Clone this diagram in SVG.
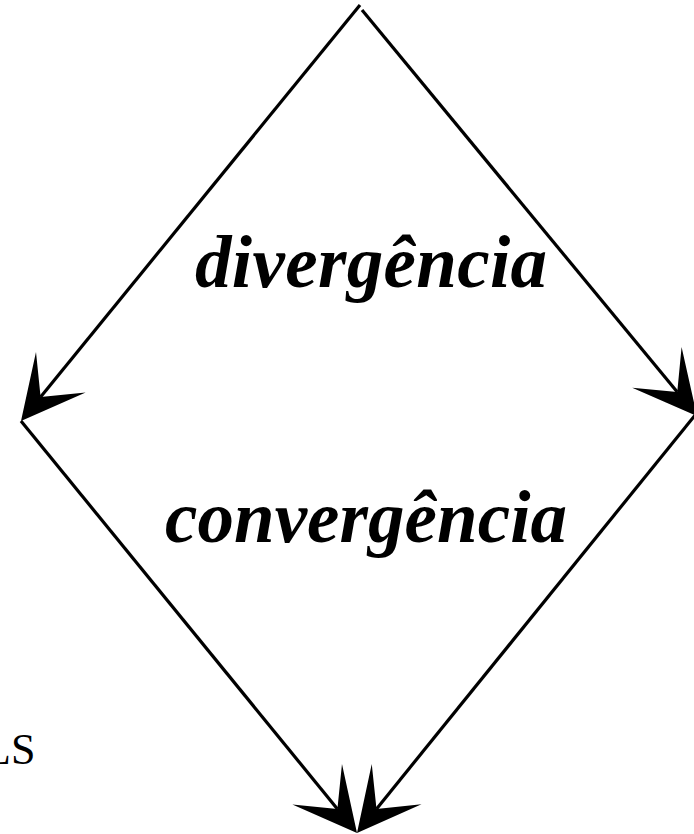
<svg xmlns="http://www.w3.org/2000/svg" width="694" height="834" viewBox="0 0 694 834">
  <style>
    .edge { fill: none; stroke: #000; stroke-width: 3.2; stroke-linecap: butt; }
    .label { font-family: "Liberation Serif", "Times New Roman", serif; font-weight: bold; font-style: italic; font-size: 73px; fill: #000; }
    .side { font-family: "Liberation Serif", "Times New Roman", serif; font-size: 44px; fill: #000; }
  </style>
  <defs>
    <marker id="arrow" markerUnits="userSpaceOnUse" orient="auto" overflow="visible" refX="-31" refY="0" markerWidth="70" markerHeight="70">
      <path d="M0,0 L-63,-32 L-31,0 L-63,32 Z" fill="#000"/>
    </marker>
  </defs>
  <rect width="694" height="834" fill="#fff"/>
  <g id="connectors">
    <path class="edge" d="M360,5 L40.59,396.97" marker-end="url(#arrow)"/>
    <path class="edge" d="M362,10 L677.27,392.09" marker-end="url(#arrow)"/>
    <path class="edge" d="M21,421 L337.41,808.97" marker-end="url(#arrow)"/>
    <path class="edge" d="M696,414 L376.5,808.9" marker-end="url(#arrow)"/>
  </g>
  <g id="divergencia">
    <text class="label" x="195" y="287" textLength="352" lengthAdjust="spacing">divergência</text>
  </g>
  <g id="convergencia">
    <text class="label" x="165" y="542" textLength="402" lengthAdjust="spacing">convergência</text>
  </g>
  <g id="side-label">
    <text class="side" x="-16" y="764">LS</text>
  </g>
</svg>
